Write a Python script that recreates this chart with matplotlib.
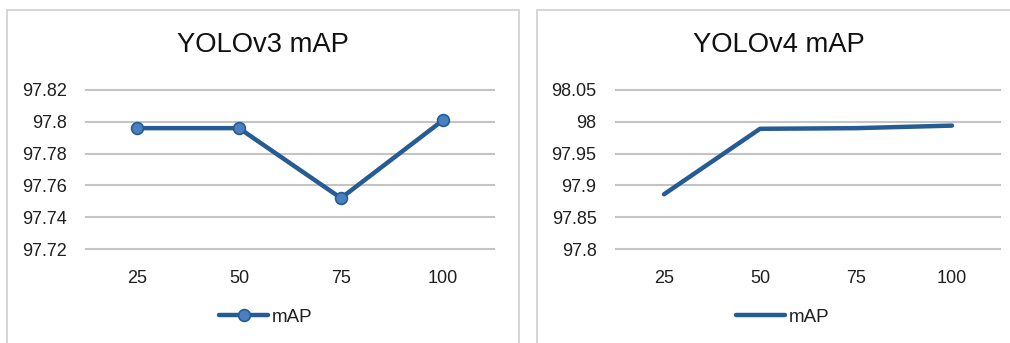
import matplotlib

matplotlib.use("Agg")
import matplotlib.pyplot as plt
from matplotlib.patches import Rectangle

plt.rcParams["font.family"] = ["Liberation Sans", "DejaVu Sans"]

categories = ["25", "50", "75", "100"]
v3_map = [97.796, 97.796, 97.752, 97.801]
v4_map = [97.886, 97.989, 97.990, 97.994]
v3_ticks = [97.72, 97.74, 97.76, 97.78, 97.8, 97.82]
v3_ticklabels = ["97.72", "97.74", "97.76", "97.78", "97.8", "97.82"]
v4_ticks = [97.8, 97.85, 97.9, 97.95, 98.0, 98.05]
v4_ticklabels = ["97.8", "97.85", "97.9", "97.95", "98", "98.05"]

W, H = 1010, 343
LINE = "#255c93"
MARK = "#4a80bf"
GRID = "#c4c4c4"
TXT = "#1f1f1f"

fig = plt.figure(figsize=(W / 100, H / 100), dpi=100)
fig.patch.set_facecolor("white")

# panel borders (pixel coords)
for x0, x1 in [(7, 519), (537, 1014)]:
    fig.patches.append(Rectangle((x0 / W, -0.05), (x1 - x0) / W, 1.05 - 10 / H,
                                 transform=fig.transFigure, fill=False,
                                 edgecolor="#cfcfcf", linewidth=1.2))


def make_panel(left, right, values, ticks, ticklabels, title, title_x, leg_x, markers):
    ax = fig.add_axes([left / W, 1 - 249 / H, (right - left) / W, 159 / H])
    x = list(range(len(categories)))
    if markers:
        ax.plot(x, values, color=LINE, linewidth=3.2, marker="o", markersize=8.5,
                markerfacecolor=MARK, markeredgecolor=LINE, markeredgewidth=1.2,
                label="mAP", solid_capstyle="round", zorder=3)
    else:
        ax.plot(x, values, color=LINE, linewidth=3.2, label="mAP",
                solid_capstyle="round", zorder=3)
    ax.set_xlim(-0.5, len(categories) - 0.5)
    ax.set_ylim(ticks[0], ticks[-1])
    ax.set_yticks(ticks)
    ax.set_yticklabels(ticklabels)
    ax.set_xticks(x)
    ax.set_xticklabels(categories)
    ax.tick_params(length=0, labelsize=13, colors=TXT, pad=14)
    ax.tick_params(axis="x", pad=15)
    ax.grid(axis="y", color=GRID, linewidth=1.5, clip_on=False)
    for sp in ax.spines.values():
        sp.set_visible(False)
    ax.set_facecolor("none")
    fig.text(title_x / W, 1 - 45 / H, title, ha="center", va="center",
             fontsize=19.7, color="#111111")
    leg = ax.legend(loc="center", bbox_to_anchor=(leg_x / W, 1 - 317 / H),
                    bbox_transform=fig.transFigure, frameon=False, fontsize=13.5,
                    handlelength=2.6, handletextpad=0.2)
    for t in leg.get_texts():
        t.set_color(TXT)
    return ax


make_panel(86, 494, v3_map, v3_ticks, v3_ticklabels, "YOLOv3 mAP", 263, 266, True)
make_panel(616, 1000, v4_map, v4_ticks, v4_ticklabels, "YOLOv4 mAP", 779, 783, False)

fig.savefig("out.png", dpi=100)
plt.close(fig)
